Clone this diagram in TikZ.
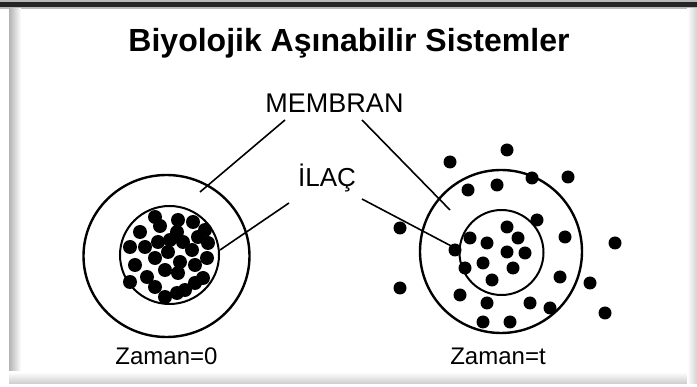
\documentclass[tikz,border=0pt]{standalone}
\usepackage{fontspec}
\setmainfont{Liberation Sans}
\begin{document}
\begin{tikzpicture}[x=1pt,y=-1pt,
  ring/.style={draw=black,line width=2.4pt},
  innerring/.style={draw=black,line width=2pt},
  leader/.style={draw=black,line width=1.6pt},
  lbl/.style={inner sep=0pt,anchor=base},
  particle/.style={fill=black}]
\useasboundingbox (0,0) rectangle (697,387);
\fill[white] (0,0) rectangle (697,387);

% window edge: dark title strip and soft shadowed borders
\fill[gray!55] (0,0) rectangle (697,9);
\fill[black!85] (0,2) rectangle (697,7);
\shade[left color=gray!60,right color=white] (9,9) rectangle (21,384);
\shade[top color=white,bottom color=gray!40] (9,372) rectangle (697,384);
\shade[left color=white,right color=gray!35] (687,9) rectangle (697,384);

% heading
\node[lbl,font=\bfseries\fontsize{32}{36}\selectfont] (title) at (349,52) {Biyolojik Aşınabilir Sistemler};

% labels
\node[lbl,font=\fontsize{27}{30}\selectfont] (membran) at (334.5,112.5) {MEMBRAN};
\node[lbl,font=\fontsize{26}{30}\selectfont] (ilac) at (327,187) {İLAÇ};
\node[lbl,font=\fontsize{24}{28}\selectfont] (t0) at (166.5,365) {Zaman=0};
\node[lbl,font=\fontsize{24}{28}\selectfont] (tt) at (498,365) {Zaman=t};

% capsule at t = 0
\draw[ring] (166.5,256) ellipse [x radius=83, y radius=81];
\draw[innerring] (169.5,255) ellipse [x radius=49.5, y radius=49];
\foreach \p in {(155,217),(160,226),(178,220),(177,232),(193,222),(205,230),
                (140,232),(130,247),(145,247),(158,242),(170,240),(183,242),
                (192,250),(208,243),(168,252),(155,258),(135,265),(180,262),
                (195,265),(207,258),(165,270),(178,273),(147,277),(155,287),
                (130,282),(195,283),(185,290),(177,293),(165,297),(203,278),
                (198,237)}
  \fill[particle] \p circle (7);

% capsule at time t
\draw[ring] (501,251.5) ellipse [x radius=81, y radius=81.5];
\draw[innerring] (501.5,252.5) ellipse [x radius=42, y radius=42.5];
\foreach \p in {(450,162),(507,150),(568,177),(532,178),(497,185),(468,190),
                (537,220),(400,228),(507,227),(470,238),(487,243),(518,238),
                (565,237),(615,243),(455,250),(507,252),(525,253),(483,263),
                (513,268),(465,268),(492,280),(560,277),(590,283),(400,288),
                (460,295),(487,303),(530,303),(550,308),(605,313),(483,322),
                (510,322)}
  \fill[particle] \p circle (6.5);

% leader ends
\coordinate (m1) at (285,120);
\coordinate (m1e) at (200,192);
\coordinate (m2) at (362,120);
\coordinate (m2e) at (450,210);
\coordinate (i1) at (289,203);
\coordinate (i1e) at (220,250);
\coordinate (i2) at (362,199);
\coordinate (i2e) at (455,248);

\draw[leader] (m1) -- (m1e);
\draw[leader] (m2) -- (m2e);
\draw[leader] (i1) -- (i1e);
\draw[leader] (i2) -- (i2e);
\end{tikzpicture}
\end{document}
